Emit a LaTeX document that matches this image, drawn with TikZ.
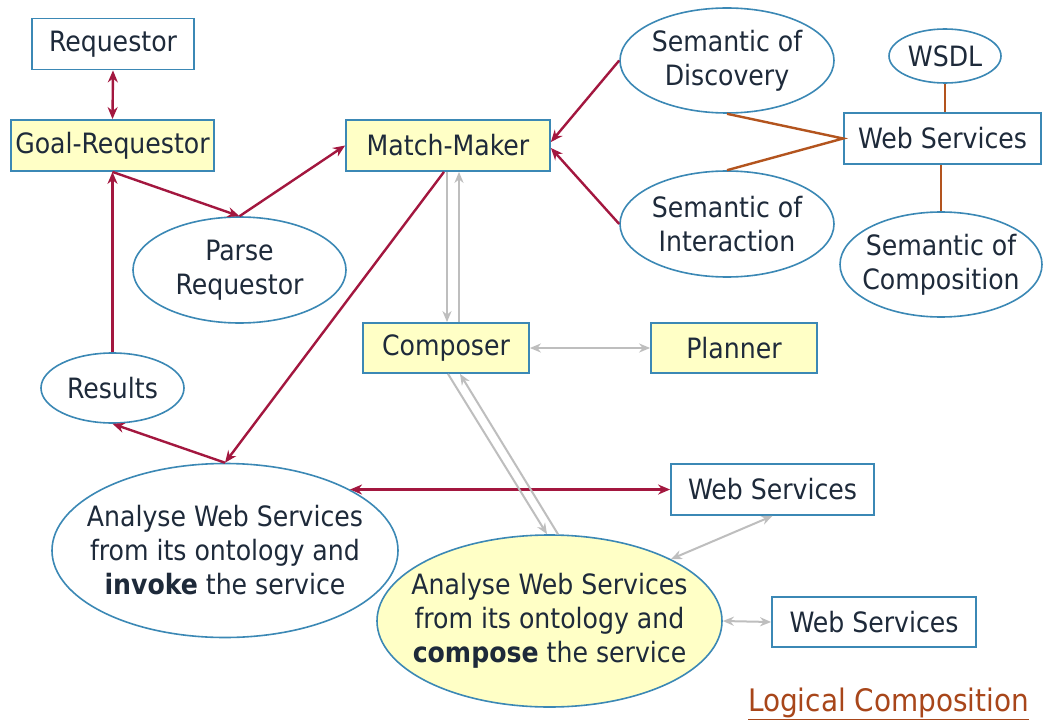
\documentclass[tikz,border=0pt]{standalone}
\usepackage{fontspec}
\setmainfont{DejaVu Sans Condensed}
\usetikzlibrary{arrows.meta,shapes.geometric,calc}
\definecolor{bord}{HTML}{3B88B5}
\definecolor{yel}{HTML}{FFFFC6}
\definecolor{redA}{HTML}{A3173F}
\definecolor{orn}{HTML}{B3541E}
\definecolor{gry}{HTML}{BEBEBE}
\definecolor{txt}{HTML}{1E2A3A}
\definecolor{logic}{HTML}{A8461A}
\begin{document}
\begin{tikzpicture}[x=1pt,y=-1pt,
  font=\fontsize{28}{34}\selectfont, text=txt,
  box/.style={draw=bord, line width=1.8pt, rectangle, inner sep=0pt, minimum height=51pt},
  ybox/.style={box, fill=yel},
  ell/.style={draw=bord, line width=1.6pt, ellipse, inner sep=0pt},
  lbl/.style={align=center, inner sep=0pt},
  rarr/.style={draw=redA, line width=2.4pt, >={Stealth[length=12pt,width=10pt]}},
  oline/.style={draw=orn, line width=2.4pt},
  garr/.style={draw=gry, line width=2pt, >={Stealth[length=11pt,width=9pt]}}]
\fill[white] (0,0) rectangle (1043,722);
\useasboundingbox (0,0) rectangle (1043,722);
% boxes
\node[box, minimum width=162pt] (req) at (113,44) {Requestor};
\node[ybox, minimum width=203pt] (goal) at (112.5,145.5) {Goal-Requestor};
\node[ybox, minimum width=204pt] (mm) at (448,145.5) {Match-Maker};
\node[ybox, minimum width=166pt, minimum height=50pt] (composer) at (446,348) {Composer};
\node[ybox, minimum width=166pt, minimum height=50pt] (planner) at (734,348) {Planner};
\node[box, minimum width=203pt] (wsmid) at (772.5,489.5) {Web Services};
\node[box, minimum width=204pt, minimum height=50pt] (wsbot) at (874,622) {Web Services};
\node[box, minimum width=197pt] (wstop) at (942.5,138.5) {Web Services};
% ellipses
\node[ell, minimum width=213pt, minimum height=106pt] (parse) at (239.5,270) {};
\node[lbl] (parseT) at (parse) {Parse\\Requestor};
\node[ell, minimum width=143pt, minimum height=70pt] (res) at (112.5,388) {};
\node[lbl] (resT) at (res) {Results};
\node[ell, minimum width=346pt, minimum height=174pt] (inv) at (225,550.5) {};
\node[lbl] (invT) at (inv) {Analyse Web Services\\from its ontology and\\\textbf{invoke} the service};
\node[ell, fill=yel, minimum width=345pt, minimum height=172pt] (compose) at (549.5,621) {};
\node[lbl] (composeT) at (compose) {Analyse Web Services\\from its ontology and\\\textbf{compose} the service};
\node[ell, minimum width=214pt, minimum height=105pt] (disc) at (727,60.5) {};
\node[lbl] (discT) at (disc) {Semantic of\\Discovery};
\node[ell, minimum width=214pt, minimum height=106pt] (inter) at (727,224) {};
\node[lbl] (interT) at (inter) {Semantic of\\Interaction};
\node[ell, minimum width=112pt, minimum height=54pt] (wsdl) at (945,56) {};
\node[lbl] (wsdlT) at (wsdl) {WSDL};
\node[ell, minimum width=202pt, minimum height=105pt] (compn) at (941,264.5) {};
\node[lbl] (compnT) at (compn) {Semantic of\\Composition};
% title
\node[text=logic, anchor=base west, inner sep=0pt, font=\fontsize{31}{34}\selectfont] (lc) at (748,711) {\underline{Logical Composition}};
% red connectors
\draw[rarr,<->] (req.south) -- (goal.north);
\draw[rarr,->] (goal.south) -- (parse.north);
\draw[rarr,->] (parse.north) -- (mm.west);
\draw[rarr,->] ([xshift=-4pt]mm.south) -- (inv.north);
\draw[rarr,->] (inv.north) -- (res.south);
\draw[rarr,->] (res.north) -- (goal.south);
\draw[rarr,<->] (inv.26.4) -- (inv.26.4 -| wsmid.west);
\draw[rarr,->] (disc.west) -- ([yshift=3.5pt]mm.east);
\draw[rarr,->] (inter.west) -- ([yshift=-2.5pt]mm.east);
% orange connectors
\draw[oline] (disc.south) -- (wstop.west) -- (inter.north);
\draw[oline] (wsdl.south) -- (wsdl.south |- wstop.north);
\draw[oline] (compn.north) -- (compn.north |- wstop.south);
% gray connectors
\draw[garr,->] ([xshift=-1pt]mm.south) -- ([xshift=1pt]composer.north);
\draw[garr,->] ([xshift=13pt]composer.north) -- ([xshift=11pt]mm.south);
\draw[garr,<->] (composer.east) -- (planner.west);
\draw[garr,->] ([xshift=2pt]composer.south) -- ([xshift=-2.5pt]compose.north);
\draw[garr,->] ([xshift=8.5pt]compose.north) -- ([xshift=14pt]composer.south);
\draw[garr,<->] (compose.27) -- (wsmid.south);
\draw[garr,<->] (compose.east) -- (wsbot.west);
\end{tikzpicture}
\end{document}
